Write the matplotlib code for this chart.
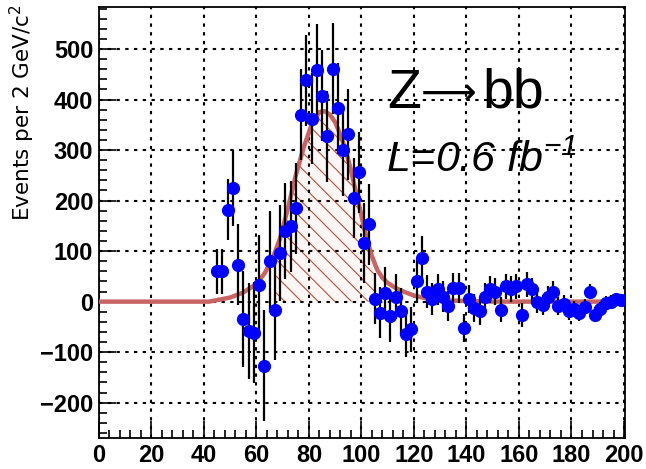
import numpy as np
import matplotlib
matplotlib.use("Agg")
import matplotlib.pyplot as plt

# bin centres (2 GeV bins) and background-subtracted counts
mass = [45, 47, 49, 51, 53, 55, 57, 59, 61, 63, 65, 67, 69, 71, 73, 75, 77, 79,
        81, 83, 85, 87, 89, 91, 93, 95, 97, 99, 101, 103, 105, 107, 109, 111,
        113, 115, 117, 119, 121, 123, 125, 127, 129, 131, 133, 135, 137, 139,
        141, 143, 145, 147, 149, 151, 153, 155, 157, 159, 161, 163, 165, 167,
        169, 171, 173, 175, 177, 179, 181, 183, 185, 187, 189, 191, 193, 195,
        197, 199]
events = [60, 60, 182, 225, 73, -34, -58, -62, 32, -127, 80, -16, 96, 140, 149,
          185, 370, 438, 362, 459, 407, 327, 461, 383, 300, 331, 205, 256, 116,
          153, 6, -22, 18, -29, 10, -19, -65, -55, 40, 87, 20, 5, 24, 10, -9,
          27, 27, -52, 5, -12, -19, 10, 24, 20, -16, 30, 25, 30, -26, 34, 24, 0,
          -6, 10, 20, -9, -5, -19, -15, -22, -10, 20, -26, -15, -3, 0, 5, 4]
errors = [45, 45, 60, 75, 80, 95, 95, 100, 100, 110, 100, 100, 95, 95, 90, 90,
          90, 90, 90, 90, 90, 90, 90, 90, 90, 90, 80, 80, 80, 80, 50, 50, 50, 50,
          45, 45, 45, 45, 42, 42, 32, 32, 30, 30, 30, 30, 30, 28, 28, 28, 28, 26,
          26, 26, 25, 25, 25, 24, 24, 24, 22, 22, 20, 20, 20, 18, 18, 18, 16, 16,
          15, 15, 15, 14, 14, 14, 12, 12]

# fitted Z peak
fit_x = [0, 42, 45, 50, 55, 60, 63, 66, 69, 72, 75, 78, 81, 84, 86, 88, 90, 92,
         94, 96, 98, 100, 102, 104, 106, 108, 110, 113, 116, 120, 125, 130, 140,
         150, 200]
fit_y = [0, 0, 3, 8, 18, 35, 55, 83, 125, 185, 250, 305, 350, 375, 377, 370,
         355, 330, 300, 260, 215, 170, 125, 90, 63, 47, 37, 27, 20, 12, 6, 3, 1,
         0, 0]
window = (67, 105)

fig = plt.figure(figsize=(6.46, 4.69), dpi=100)
ax = fig.add_axes([0.153, 0.066, 0.815, 0.919])

fx = np.array(fit_x, dtype=float)
fy = np.array(fit_y, dtype=float)
sel = (fx >= window[0]) & (fx <= window[1])
hx = np.concatenate([[window[0]], fx[sel], [window[1]]])
hy = np.interp(hx, fx, fy)
plt.rcParams['hatch.color'] = '#b5523f'
plt.rcParams['hatch.linewidth'] = 0.8
ax.fill_between(hx, 0, hy, facecolor='#fff7f5', edgecolor='#b5523f',
                hatch='\\\\', linewidth=0, zorder=1)

ax.plot(fx, fy, color='#c86464', lw=3.2, zorder=3, solid_capstyle='round')

ax.errorbar(mass, events, yerr=errors, fmt='o', color='blue', ms=8.5,
            ecolor='black', elinewidth=1.6, capsize=0, zorder=4)

ax.set_xlim(0, 200.5)
ax.set_ylim(-270, 583)
ax.set_xticks(range(0, 201, 20))
ax.set_xticks(range(0, 201, 4), minor=True)
ax.set_yticks(range(-200, 501, 100))
ax.set_yticks(range(-260, 581, 20), minor=True)
ax.tick_params(which='both', direction='in', top=False, right=False, width=1.2)
ax.tick_params(which='major', length=12)
ax.tick_params(which='minor', length=6)
ax.tick_params(axis='both', labelsize=17, pad=4)
for lab in ax.get_xticklabels() + ax.get_yticklabels():
    lab.set_fontweight('bold')
    lab.set_family('Liberation Sans')
ax.grid(True, which='major', color='black', linestyle=(0, (1.6, 2.6)), lw=1.5)
for s in ax.spines.values():
    s.set_linewidth(1.3)

fig.text(0.034, 0.99, 'Events per 2 GeV/c$^2$', rotation=90, ha='center',
         va='top', fontsize=15.5, family='DejaVu Sans')

# Z -> bb, with a long thin arrow like the original slide
ax.text(0.5475, 0.766, 'Z', transform=ax.transAxes, fontsize=40,
        family='Liberation Sans', ha='left', va='baseline')
ax.text(0.611, 0.772, '\u27f6', transform=ax.transAxes, fontsize=28,
        family='DejaVu Sans', ha='left', va='baseline')
ax.text(0.729, 0.766, 'bb', transform=ax.transAxes, fontsize=40,
        family='Liberation Sans', ha='left', va='baseline')

plt.rcParams['mathtext.fontset'] = 'custom'
plt.rcParams['mathtext.it'] = 'Liberation Sans:italic'
plt.rcParams['mathtext.rm'] = 'Liberation Sans:italic'
ax.text(0.546, 0.617, 'L=0.6 fb$^{-1}$', transform=ax.transAxes, fontsize=31,
        family='Liberation Sans', style='italic', ha='left', va='baseline')

fig.savefig('out.png', dpi=100)
